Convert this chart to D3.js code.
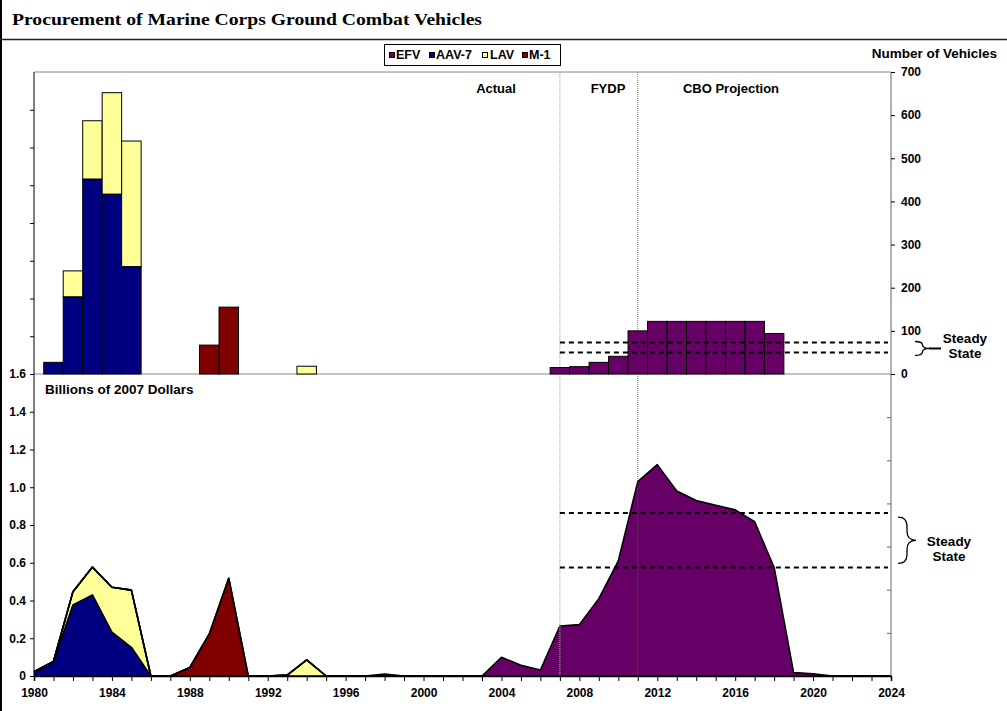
<!DOCTYPE html>
<html><head><meta charset="utf-8">
<script src="https://cdn.jsdelivr.net/npm/d3@7"></script>
<style>
body{margin:0;background:#fff}
svg{display:block}
text{font-family:"Liberation Sans",Arial,sans-serif;font-weight:bold;fill:#000}
</style>
</head><body>
<svg id="c" width="1007" height="711"></svg>
<script>
// ---------- DATA ----------
const years = [1980,1981,1982,1983,1984,1985,1986,1987,1988,1989,
               1990,1991,1992,1993,1994,1995,1996,1997,1998,1999,
               2000,2001,2002,2003,2004,2005,2006,2007,2008,2009,
               2010,2011,2012,2013,2014,2015,2016,2017,2018,2019,
               2020,2021,2022,2023,2024];
const seriesNames = ["EFV","AAV-7","LAV","M-1"];
const seriesColors = {"EFV":"#660066","AAV-7":"#000080","LAV":"#FFFF99","M-1":"#800000"};

// Number of vehicles procured (bars, right axis)
const aavCount = [0,27,179,452,417,249,0,0,0,0,
                  0,0,0,0,0,0,0,0,0,0,
                  0,0,0,0,0,0,0,0,0,0,
                  0,0,0,0,0,0,0,0,0,0,
                  0,0,0,0,0];
const lavCount = [0,0,60,135,235,291,0,0,0,0,
                  0,0,0,0,18,0,0,0,0,0,
                  0,0,0,0,0,0,0,0,0,0,
                  0,0,0,0,0,0,0,0,0,0,
                  0,0,0,0,0];
const m1Count  = [0,0,0,0,0,0,0,0,0,67,
                  155,0,0,0,0,0,0,0,0,0,
                  0,0,0,0,0,0,0,0,0,0,
                  0,0,0,0,0,0,0,0,0,0,
                  0,0,0,0,0];
const efvCount = [0,0,0,0,0,0,0,0,0,0,
                  0,0,0,0,0,0,0,0,0,0,
                  0,0,0,0,0,0,0,15,17,27,
                  41,100,122,122,122,122,122,122,94,0,
                  0,0,0,0,0];

// Procurement cost, billions of 2007 dollars (areas, left axis)
const aavCost = [0.02,0.075,0.377,0.43,0.232,0.152,0,0,0,0,
                 0,0,0,0,0,0,0,0,0,0,
                 0,0,0,0,0,0,0,0,0,0,
                 0,0,0,0,0,0,0,0,0,0,
                 0,0,0,0,0];
const lavCost = [0.003,0.002,0.07,0.147,0.238,0.303,0,0,0,0,
                 0,0,0,0.005,0.086,0,0,0,0,0,
                 0,0,0,0,0,0,0,0,0,0,
                 0,0,0,0,0,0,0,0,0,0,
                 0,0,0,0,0];
const m1Cost  = [0,0,0,0,0,0,0,0,0.045,0.223,
                 0.518,0,0,0,0,0,0,0,0,0,
                 0,0,0,0,0,0,0,0,0,0,
                 0,0,0,0,0,0,0,0,0,0,
                 0,0,0,0,0];
const efvCost = [0,0,0,0,0,0,0,0,0,0,
                 0,0,0,0,0,0,0,0,0.01,0,
                 0,0,0,0,0.099,0.057,0.032,0.265,0.272,0.41,
                 0.61,1.03,1.12,0.98,0.93,0.905,0.88,0.817,0.575,0.018,
                 0.012,0,0,0,0];

const steadyCount = [50, 73];      // vehicles per year
const steadyCost = [0.575, 0.863]; // billions per year
const leftTicks = [0,0.2,0.4,0.6,0.8,1.0,1.2,1.4,1.6,1.8,2.0,2.2,2.4,2.6,2.8,3.0];
const rightTicks = [0,100,200,300,400,500,600,700];
const rightMinorTicks = [-100,-200,-300,-400,-500,-600];
const xLabelYears = [1980,1984,1988,1992,1996,2000,2004,2008,2012,2016,2020,2024];
const periods = [{label:"Actual", x:496},{label:"FYDP", x:608},{label:"CBO Projection", x:731}];
const dividerYears = [2007, 2011];

// ---------- CHART ----------
const svg = d3.select('#c');
const W = 1007, H = 711;
const x = d3.scaleLinear().domain([1980,2024]).range([34,891]);
const yL = d3.scaleLinear().domain([0,3.2]).range([676,72]);
const yR = d3.scaleLinear().domain([-700,700]).range([676,72]);
const step = x(1981) - x(1980);

// frame
svg.append('line').attr('x1',1).attr('x2',1).attr('y1',0).attr('y2',H).attr('stroke','#000').attr('stroke-width',2);
svg.append('line').attr('x1',0).attr('x2',W).attr('y1',39.5).attr('y2',39.5).attr('stroke','#222').attr('stroke-width',1.5);
svg.append('text').attr('x',12).attr('y',25)
  .style('font-family','"Liberation Serif","Times New Roman",serif').style('font-size','17.5px')
  .attr('textLength',470).attr('lengthAdjust','spacingAndGlyphs')
  .text('Procurement of Marine Corps Ground Combat Vehicles');

// plot top border & bar baseline
svg.append('line').attr('x1',x(1980)).attr('x2',x(2024)).attr('y1',yR(700)).attr('y2',yR(700)).attr('stroke','#888');
svg.append('line').attr('x1',x(1980)).attr('x2',x(2024)).attr('y1',yR(0)).attr('y2',yR(0)).attr('stroke','#888');

// ---- areas (cost) ----
const costRows = years.map((yr,i)=>({year:yr,"AAV-7":aavCost[i],"LAV":lavCost[i],"M-1":m1Cost[i],"EFV":efvCost[i]}));
const costStack = d3.stack().keys(["AAV-7","LAV","M-1","EFV"])(costRows);
const area = d3.area().x(d=>x(d.data.year)).y0(d=>yL(d[0])).y1(d=>yL(d[1]));
const topLine = d3.line().x(d=>x(d.data.year)).y(d=>yL(d[1]));
svg.append('g').selectAll('path').data(costStack).join('path')
  .attr('d',area).attr('fill',d=>seriesColors[d.key]).attr('stroke','none');
svg.append('g').selectAll('path').data(costStack).join('path')
  .attr('d',topLine).attr('fill','none').attr('stroke','#000').attr('stroke-width',1.6).attr('stroke-linejoin','round');

// ---- divider lines ----
svg.append('line').attr('x1',x(dividerYears[0])).attr('x2',x(dividerYears[0])).attr('y1',yR(700)).attr('y2',yL(0))
  .attr('stroke','#aaa').attr('stroke-width',1.2).attr('stroke-dasharray','1,1');
svg.append('line').attr('x1',x(dividerYears[1])).attr('x2',x(dividerYears[1])).attr('y1',yR(700)).attr('y2',yL(0))
  .attr('stroke','#555').attr('stroke-width',0.8).attr('stroke-dasharray','1,1');

// ---- bars (counts) ----
const countRows = years.map((yr,i)=>({year:yr,"AAV-7":aavCount[i],"LAV":lavCount[i],"M-1":m1Count[i],"EFV":efvCount[i]}));
const countStack = d3.stack().keys(["AAV-7","LAV","M-1","EFV"])(countRows);
countStack.forEach(layer=>{
  svg.append('g').selectAll('rect').data(layer.filter(d=>d[1]-d[0]>0)).join('rect')
    .attr('x',d=>x(d.data.year-0.5)).attr('width',step)
    .attr('y',d=>yR(d[1])).attr('height',d=>yR(d[0])-yR(d[1]))
    .attr('fill',seriesColors[layer.key]).attr('stroke','#000').attr('stroke-width',1);
});

// ---- steady-state dashed lines ----
const dash = (y)=>svg.append('line').attr('x1',x(2007)).attr('x2',888).attr('y1',y).attr('y2',y)
  .attr('stroke','#000').attr('stroke-width',2).attr('stroke-dasharray','5,4');
steadyCount.forEach(v=>dash(yR(v)));
steadyCost.forEach(v=>dash(yL(v)));

function brace(x0, y1, y2, w){
  const xm = x0 + w/2, ym = (y1+y2)/2, r = Math.min(w/2, (y2-y1)/4);
  return `M${x0},${y1} Q${xm},${y1} ${xm},${y1+r} L${xm},${ym-r} Q${xm},${ym} ${x0+w},${ym} `+
         `Q${xm},${ym} ${xm},${ym+r} L${xm},${y2-r} Q${xm},${y2} ${x0},${y2}`;
}
const tb1 = yR(steadyCount[1]) - 1, tb2 = yR(steadyCount[0]) + 3;
svg.append('path').attr('d',brace(915,tb1,tb2,15)).attr('fill','none').attr('stroke','#000').attr('stroke-width',1.3);
svg.append('line').attr('x1',929).attr('x2',941).attr('y1',(tb1+tb2)/2).attr('y2',(tb1+tb2)/2).attr('stroke','#000').attr('stroke-width',2);
svg.append('path').attr('d',brace(898,yL(steadyCost[1])+4,yL(steadyCost[0])-4,18)).attr('fill','none').attr('stroke','#000').attr('stroke-width',1.3);
const ssText = (cx, y0)=>{
  svg.append('text').attr('x',cx).attr('y',y0).attr('text-anchor','middle').style('font-size','13.5px').text('Steady');
  svg.append('text').attr('x',cx).attr('y',y0+15).attr('text-anchor','middle').style('font-size','13.5px').text('State');
};
ssText(965, 343);
ssText(949, 546);

// ---- axes ----
const axL = svg.append('g').attr('transform',`translate(${x(1980)},0)`)
  .call(d3.axisLeft(yL).tickValues(leftTicks).tickSize(4)
    .tickFormat(v=> v>1.61 ? '' : (v===0 ? '0' : d3.format('.1f')(v))));
axL.select('.domain').attr('d',`M0,${yR(700)}V${yL(0)}`).attr('stroke','#000');
axL.selectAll('text').style('font-size','12px').style('font-family','"Liberation Sans",Arial,sans-serif').attr('x',-8);

const axR = svg.append('g').attr('transform',`translate(${x(2024)},0)`)
  .call(d3.axisRight(yR).tickValues(rightTicks).tickSize(4));
axR.select('.domain').attr('d',`M0,${yR(700)}V${yL(0)}`).attr('stroke','#666');
axR.selectAll('text').style('font-size','12px').style('font-family','"Liberation Sans",Arial,sans-serif').attr('x',10);
const axR2 = svg.append('g').attr('transform',`translate(${x(2024)},0)`)
  .call(d3.axisLeft(yR).tickValues(rightMinorTicks).tickSize(4).tickFormat(''));
axR2.select('.domain').remove();
axR2.selectAll('line').attr('stroke','#666');

const axX = svg.append('g').attr('transform',`translate(0,${yL(0)})`)
  .call(d3.axisBottom(x).tickValues(years).tickSize(5)
    .tickFormat(d=> xLabelYears.includes(d) ? String(d) : ''));
axX.select('.domain').attr('stroke','#000').attr('stroke-width',1.5);
axX.selectAll('text').style('font-size','12px').style('font-family','"Liberation Sans",Arial,sans-serif').attr('y',12);

// ---- titles ----
svg.append('text').attr('x',997).attr('y',58).attr('text-anchor','end').style('font-size','13.5px').text('Number of Vehicles');
svg.append('text').attr('x',45).attr('y',394).style('font-size','13.5px').text('Billions of 2007 Dollars');
periods.forEach(p=>svg.append('text').attr('x',p.x).attr('y',93).attr('text-anchor','middle').style('font-size','13px').text(p.label));

// ---- legend ----
const lg = svg.append('g');
lg.append('rect').attr('x',384.5).attr('y',44.5).attr('width',176).attr('height',21).attr('fill','#fff').attr('stroke','#000');
const lgSq = [389, 429, 482, 522];
const lgTx = [396, 436, 490, 529];
seriesNames.forEach((n,i)=>{
  lg.append('rect').attr('x',lgSq[i]+0.5).attr('y',52.5).attr('width',5).attr('height',5).attr('fill',seriesColors[n]).attr('stroke','#000');
  lg.append('text').attr('x',lgTx[i]).attr('y',59).style('font-size','12.5px').text(n);
});
</script>
</body></html>
